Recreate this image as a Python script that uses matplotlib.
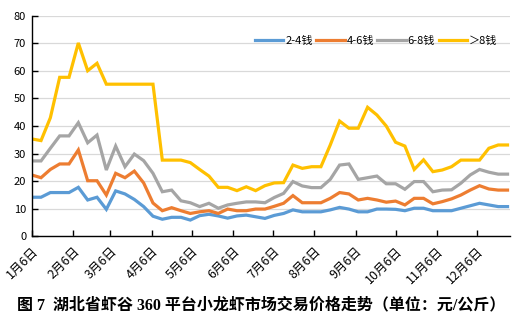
import matplotlib
matplotlib.use('Agg')
import matplotlib.pyplot as plt
import numpy as np

plt.rcParams['font.family'] = ['Noto Sans CJK SC', 'DejaVu Sans']

# weekly prices from 1月6日, one point per week
week_days = [7 * i for i in range(52)]

price_2_4 = [14.1, 14.1, 15.8, 15.8, 15.8, 17.7, 13.1, 14.1, 9.7, 16.4,
             15.3, 13.3, 10.7, 7.2, 6.1, 6.8, 6.8, 5.8, 7.4, 7.9,
             7.3, 6.5, 7.3, 7.6, 7.0, 6.4, 7.5, 8.2, 9.5, 8.8,
             8.8, 8.8, 9.5, 10.4, 9.8, 8.8, 8.8, 9.8, 9.8, 9.7,
             9.2, 10.1, 10.1, 9.2, 9.2, 9.2, 10.1, 11.0, 11.9, 11.3,
             10.7, 10.7]
price_4_6 = [22.2, 21.2, 24.2, 26.2, 26.2, 31.3, 20.1, 20.1, 14.9, 22.8,
             21.2, 23.6, 19.3, 12.0, 9.2, 10.3, 9.2, 8.2, 8.8, 9.2,
             8.2, 9.8, 9.2, 9.2, 9.8, 9.8, 10.8, 11.9, 14.7, 12.1,
             12.1, 12.1, 13.7, 15.8, 15.3, 13.1, 13.7, 13.1, 12.3, 12.7,
             11.3, 13.7, 13.7, 11.7, 12.5, 13.5, 14.9, 16.7, 18.3, 17.1,
             16.7, 16.7]
price_6_8 = [27.3, 27.3, 31.9, 36.4, 36.4, 41.2, 33.9, 36.7, 24.0, 32.7,
             25.2, 29.8, 27.4, 22.8, 16.1, 16.7, 12.8, 12.1, 10.7, 11.9,
             10.1, 11.3, 11.9, 12.4, 12.4, 12.1, 14.0, 15.5, 19.8, 18.2,
             17.6, 17.6, 20.6, 25.8, 26.2, 20.6, 21.2, 21.8, 19.0, 19.0,
             17.0, 19.8, 19.8, 16.1, 16.7, 16.8, 19.2, 22.2, 24.2, 23.2,
             22.5, 22.5]
price_8 = [35.3, 34.7, 43.0, 57.7, 57.7, 70.2, 60.1, 62.8, 55.2, 55.2,
           55.2, 55.2, 55.2, 55.2, 27.6, 27.6, 27.6, 26.7, 24.2, 21.8,
           17.7, 17.7, 16.5, 17.9, 16.5, 18.3, 19.3, 19.4, 25.8, 24.6,
           25.2, 25.2, 33.1, 41.8, 39.2, 39.2, 46.8, 44.0, 40.0, 34.1,
           32.7, 24.2, 27.7, 23.4, 24.0, 25.2, 27.6, 27.6, 27.6, 31.9,
           33.1, 33.1]

series_names = ['2-4钱', '4-6钱', '6-8钱', '＞8钱']
series_colors = ['#5B9BD5', '#ED7D31', '#A5A5A5', '#FFC000']

# month ticks: days after 1月6日
tick_days = [0, 31, 59, 90, 120, 151, 181, 212, 243, 273, 304, 334]
tick_labels = [f'{m}月6日' for m in range(1, 13)]

fig = plt.figure(figsize=(5.23, 3.23), dpi=100)
ax = fig.add_axes([0.0606, 0.2693, 0.9144, 0.6812])

for vals, name, c in zip([price_2_4, price_4_6, price_6_8, price_8], series_names, series_colors):
    ax.plot(week_days, vals, color=c, lw=2.3, label=name, solid_joinstyle='miter')

ax.set_xlim(0, 358.8)
ax.set_ylim(0, 80)
ax.set_yticks(np.arange(0, 81, 10))
ax.yaxis.grid(True, color='#D9D9D9', lw=0.9)
ax.set_axisbelow(True)

ax.set_xticks(tick_days)
ax.set_xticklabels(tick_labels, rotation=45, ha='right', va='top', rotation_mode='anchor')
ax.tick_params(axis='both', direction='in', length=4, width=1, colors='black')
ax.tick_params(axis='x', pad=6, labelsize=9)
ax.tick_params(axis='y', pad=4, labelsize=8)

for s in ['top', 'right']:
    ax.spines[s].set_visible(False)
for s in ['left', 'bottom']:
    ax.spines[s].set_color('black')
    ax.spines[s].set_linewidth(1)

ax.legend(loc='center', bbox_to_anchor=(0.72, 0.886), ncol=4, frameon=False,
          fontsize=8, handlelength=2.6, handletextpad=0.15, columnspacing=0.3,
          borderpad=0)

fig.text(0.5, 0.055, '图 7  湖北省虾谷 360 平台小龙虾市场交易价格走势（单位：元/公斤）',
         ha='center', va='center', fontsize=11.5, fontweight='bold',
         family=['Liberation Serif', 'Noto Sans CJK SC'])

fig.savefig('out.png', dpi=100)
